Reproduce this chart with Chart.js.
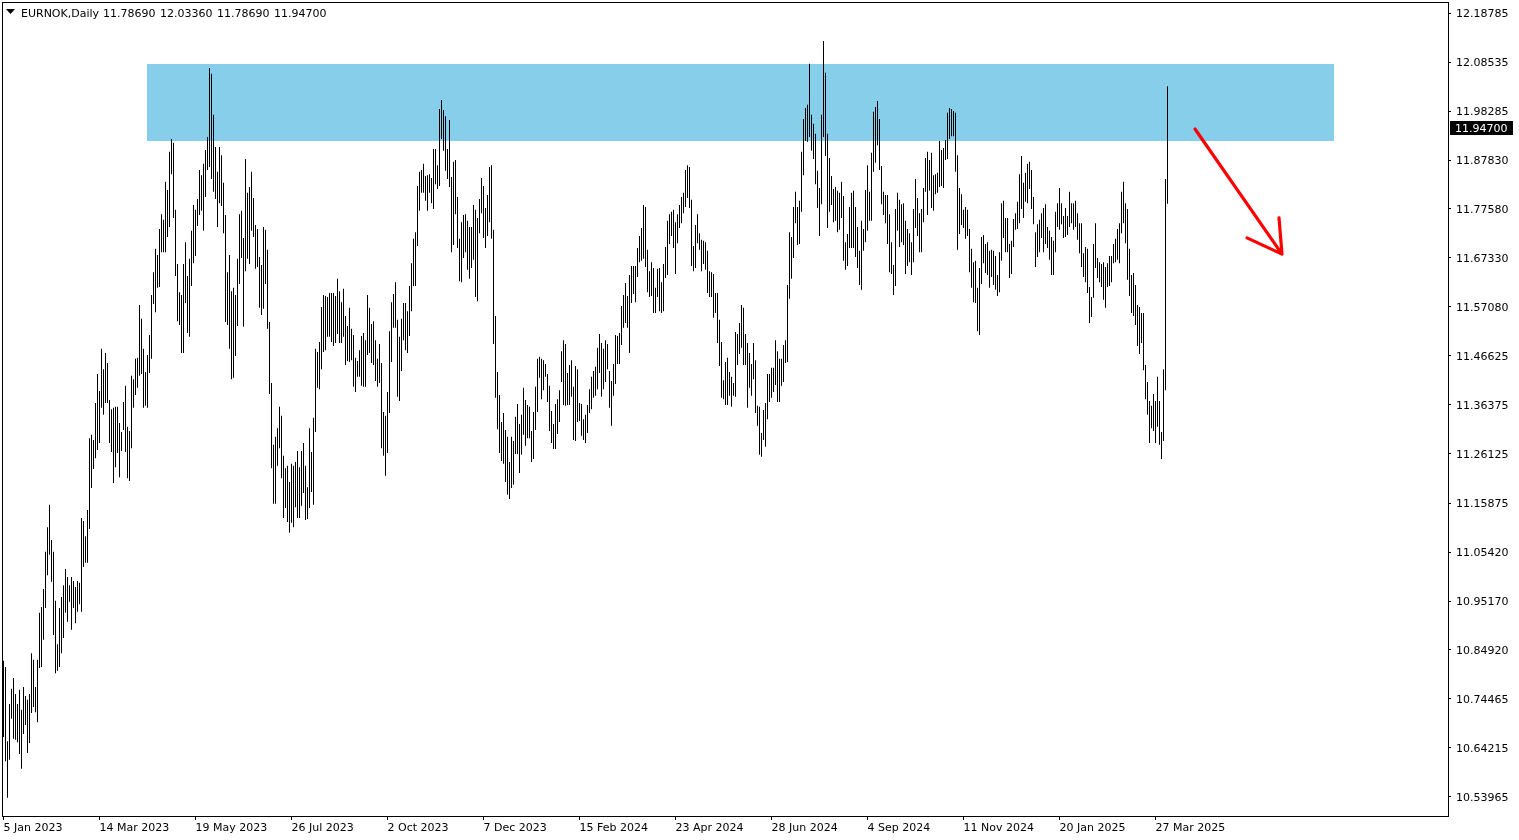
<!DOCTYPE html>
<html><head><meta charset="utf-8">
<script src="https://cdn.jsdelivr.net/npm/chart.js@4.4.1/dist/chart.umd.min.js"></script>
<style>html,body{margin:0;padding:0;background:#fff;}#wrap{width:1519px;height:840px;position:relative;}</style>
</head><body><div id="wrap"><canvas id="c"></canvas></div>
<script>
const symbolName = 'EURNOK,Daily';
const lastBarOHLC = [11.78690, 12.03360, 11.78690, 11.94700];
const dateTickIndex = [0, 48, 96, 144, 192, 240, 288, 336, 384, 432, 480, 528, 576];
const dateTickLabels = ['5 Jan 2023','14 Mar 2023','19 May 2023','26 Jul 2023','2 Oct 2023','7 Dec 2023','15 Feb 2024','23 Apr 2024','28 Jun 2024','4 Sep 2024','11 Nov 2024','20 Jan 2025','27 Mar 2025'];
const priceTickLabels = ['12.18785','12.08535','11.98285','11.87830','11.77580','11.67330','11.57080','11.46625','11.36375','11.26125','11.15875','11.05420','10.95170','10.84920','10.74465','10.64215','10.53965'];

const highs = [10.826,10.813,10.657,10.735,10.767,10.790,10.756,10.735,10.765,10.723,
10.771,10.752,10.744,10.756,10.842,10.828,10.771,10.828,10.927,10.939,
10.977,11.055,11.107,11.154,11.080,11.055,10.952,10.861,10.937,10.960,
10.985,11.019,11.002,10.985,11.002,10.994,10.981,10.994,10.990,11.126,
11.120,11.088,11.143,11.294,11.301,11.290,11.368,11.429,11.393,11.482,
11.439,11.473,11.452,11.374,11.355,11.358,11.360,11.360,11.326,11.307,
11.370,11.404,11.318,11.309,11.425,11.418,11.461,11.463,11.574,11.545,
11.482,11.433,11.469,11.511,11.595,11.643,11.692,11.679,11.734,11.765,
11.753,11.833,11.816,11.896,11.923,11.915,11.774,11.660,11.601,11.595,
11.660,11.706,11.635,11.671,11.730,11.784,11.774,11.797,11.858,11.847,
11.871,11.900,11.927,12.072,12.060,11.974,11.906,11.854,11.906,11.889,
11.831,11.763,11.643,11.679,11.603,11.610,11.595,11.671,11.765,11.772,
11.715,11.881,11.810,11.822,11.854,11.799,11.742,11.734,11.675,11.658,
11.738,11.732,11.690,11.538,11.410,11.280,11.297,11.315,11.360,11.341,
11.257,11.231,11.236,11.202,11.240,11.236,11.244,11.267,11.233,11.267,
11.284,11.236,11.191,11.315,11.265,11.337,11.482,11.475,11.496,11.570,
11.595,11.593,11.591,11.599,11.599,11.599,11.593,11.629,11.603,11.580,
11.608,11.551,11.530,11.568,11.524,11.511,11.463,11.456,11.479,11.509,
11.515,11.500,11.595,11.568,11.534,11.540,11.500,11.461,11.492,11.452,
11.349,11.341,11.391,11.519,11.580,11.597,11.622,11.543,11.507,11.545,
11.578,11.578,11.561,11.614,11.662,11.713,11.727,11.824,11.854,11.858,
11.871,11.845,11.847,11.849,11.841,11.902,11.902,11.868,11.986,12.005,
11.984,11.971,11.902,11.963,11.843,11.875,11.879,11.801,11.713,11.748,
11.763,11.765,11.751,11.738,11.738,11.784,11.774,11.757,11.797,11.841,
11.824,11.778,11.805,11.864,11.868,11.732,11.551,11.433,11.385,11.328,
11.347,11.311,11.297,11.244,11.297,11.288,11.339,11.366,11.324,11.343,
11.400,11.374,11.364,11.360,11.309,11.349,11.402,11.461,11.465,11.461,
11.458,11.450,11.429,11.404,11.351,11.324,11.366,11.376,11.395,11.477,
11.500,11.492,11.431,11.448,11.458,11.402,11.446,11.439,11.368,11.366,
11.334,11.343,11.364,11.397,11.423,11.435,11.444,11.484,11.513,11.494,
11.482,11.500,11.492,11.435,11.414,11.450,11.511,11.509,11.515,11.572,
11.595,11.620,11.593,11.637,11.656,11.656,11.656,11.694,11.719,11.736,
11.784,11.780,11.690,11.645,11.664,11.652,11.610,11.650,11.652,11.622,
11.660,11.696,11.751,11.765,11.770,11.774,11.748,11.765,11.784,11.801,
11.810,11.858,11.868,11.864,11.795,11.698,11.742,11.765,11.725,11.711,
11.709,11.706,11.688,11.645,11.643,11.639,11.599,11.599,11.543,11.496,
11.416,11.454,11.463,11.433,11.423,11.410,11.517,11.513,11.536,11.574,
11.568,11.513,11.494,11.473,11.450,11.494,11.458,11.362,11.360,11.305,
11.353,11.368,11.429,11.429,11.442,11.442,11.500,11.477,11.461,11.461,
11.490,11.500,11.616,11.727,11.717,11.780,11.812,11.780,11.793,11.896,
11.965,11.988,11.995,12.081,11.974,11.955,11.934,11.856,11.820,11.974,
12.129,12.062,11.934,11.883,11.845,11.818,11.822,11.814,11.810,11.833,
11.803,11.706,11.723,11.780,11.810,11.814,11.780,11.738,11.688,11.751,
11.734,11.816,11.868,11.812,11.894,11.980,11.990,12.003,11.965,11.866,
11.812,11.805,11.805,11.765,11.706,11.658,11.776,11.810,11.795,11.786,
11.788,11.751,11.734,11.725,11.706,11.776,11.839,11.799,11.767,11.776,
11.820,11.883,11.896,11.879,11.894,11.847,11.849,11.852,11.919,11.900,
11.904,11.921,11.978,11.988,11.986,11.982,11.978,11.889,11.820,11.807,
11.774,11.780,11.774,11.734,11.692,11.664,11.667,11.610,11.652,11.717,
11.721,11.702,11.706,11.688,11.690,11.688,11.677,11.637,11.685,11.788,
11.793,11.757,11.757,11.702,11.709,11.755,11.767,11.791,11.849,11.887,
11.831,11.852,11.871,11.875,11.858,11.801,11.727,11.744,11.753,11.767,
11.778,11.786,11.738,11.730,11.717,11.709,11.770,11.788,11.820,11.788,
11.761,11.778,11.761,11.812,11.788,11.788,11.793,11.767,11.746,11.746,
11.683,11.696,11.692,11.612,11.591,11.702,11.746,11.673,11.664,11.660,
11.664,11.654,11.662,11.677,11.677,11.702,11.713,11.734,11.746,11.812,
11.833,11.788,11.776,11.692,11.637,11.641,11.616,11.574,11.570,11.557,
11.557,11.448,11.412,11.372,11.362,11.387,11.372,11.423,11.372,11.307,
11.439,11.839,12.0336];

const lows = [10.666,10.615,10.538,10.618,10.704,10.662,10.660,10.655,10.630,10.599,
10.672,10.691,10.632,10.653,10.716,10.729,10.718,10.697,10.811,10.813,
10.870,10.937,11.006,11.049,10.992,10.880,10.800,10.805,10.813,10.842,
10.874,10.927,10.908,10.950,10.891,10.937,10.905,10.929,10.945,10.929,
11.023,11.032,11.032,11.103,11.189,11.229,11.252,11.269,11.284,11.358,
11.343,11.368,11.368,11.284,11.265,11.200,11.233,11.263,11.212,11.267,
11.311,11.265,11.210,11.204,11.273,11.358,11.385,11.400,11.425,11.429,
11.358,11.362,11.358,11.431,11.461,11.576,11.559,11.610,11.612,11.685,
11.685,11.685,11.717,11.738,11.849,11.757,11.635,11.540,11.532,11.473,
11.473,11.578,11.515,11.507,11.614,11.662,11.677,11.740,11.763,11.772,
11.730,11.801,11.858,11.864,11.839,11.812,11.797,11.738,11.788,11.782,
11.725,11.538,11.532,11.482,11.418,11.421,11.467,11.530,11.618,11.673,
11.528,11.645,11.671,11.660,11.730,11.717,11.650,11.654,11.568,11.553,
11.566,11.618,11.524,11.387,11.231,11.156,11.156,11.236,11.273,11.210,
11.126,11.147,11.118,11.095,11.116,11.107,11.149,11.126,11.126,11.152,
11.179,11.122,11.124,11.147,11.181,11.154,11.307,11.400,11.397,11.439,
11.475,11.479,11.507,11.507,11.496,11.488,11.494,11.513,11.494,11.494,
11.507,11.448,11.456,11.454,11.458,11.402,11.391,11.423,11.423,11.404,
11.402,11.402,11.469,11.473,11.452,11.448,11.414,11.402,11.410,11.273,
11.257,11.215,11.263,11.347,11.454,11.526,11.526,11.381,11.372,11.435,
11.500,11.479,11.473,11.509,11.561,11.614,11.614,11.698,11.772,11.810,
11.810,11.793,11.772,11.810,11.788,11.776,11.828,11.818,11.824,11.923,
11.898,11.856,11.839,11.822,11.685,11.700,11.765,11.694,11.624,11.622,
11.673,11.685,11.648,11.629,11.652,11.669,11.591,11.582,11.725,11.767,
11.715,11.694,11.719,11.748,11.713,11.492,11.379,11.313,11.263,11.246,
11.240,11.202,11.175,11.166,11.189,11.196,11.261,11.261,11.221,11.259,
11.301,11.278,11.294,11.294,11.244,11.250,11.311,11.349,11.421,11.376,
11.395,11.423,11.370,11.309,11.284,11.271,11.271,11.303,11.328,11.412,
11.364,11.362,11.364,11.364,11.381,11.290,11.288,11.328,11.330,11.299,
11.290,11.284,11.305,11.347,11.355,11.379,11.383,11.397,11.431,11.381,
11.397,11.412,11.439,11.358,11.320,11.383,11.408,11.450,11.450,11.490,
11.526,11.536,11.526,11.473,11.578,11.597,11.580,11.633,11.664,11.667,
11.671,11.654,11.601,11.591,11.593,11.557,11.557,11.591,11.561,11.557,
11.561,11.631,11.637,11.702,11.719,11.694,11.639,11.704,11.736,11.746,
11.767,11.780,11.799,11.778,11.656,11.645,11.652,11.704,11.690,11.645,
11.660,11.648,11.599,11.591,11.591,11.547,11.557,11.494,11.446,11.379,
11.376,11.364,11.364,11.383,11.360,11.383,11.381,11.448,11.471,11.484,
11.448,11.448,11.358,11.400,11.383,11.418,11.347,11.320,11.259,11.255,
11.290,11.276,11.334,11.370,11.379,11.391,11.406,11.370,11.370,11.404,
11.412,11.452,11.454,11.587,11.629,11.673,11.746,11.700,11.702,11.770,
11.847,11.919,11.917,11.927,11.898,11.881,11.828,11.778,11.719,11.786,
11.927,11.887,11.736,11.770,11.784,11.748,11.751,11.727,11.732,11.757,
11.667,11.648,11.656,11.694,11.694,11.694,11.675,11.652,11.616,11.606,
11.688,11.706,11.730,11.751,11.751,11.854,11.873,11.910,11.858,11.786,
11.763,11.746,11.702,11.643,11.639,11.595,11.614,11.730,11.696,11.706,
11.700,11.639,11.656,11.664,11.637,11.664,11.736,11.719,11.685,11.685,
11.748,11.812,11.763,11.814,11.778,11.772,11.807,11.810,11.822,11.824,
11.820,11.879,11.881,11.923,11.929,11.929,11.854,11.690,11.723,11.742,
11.736,11.713,11.719,11.643,11.610,11.580,11.578,11.519,11.511,11.618,
11.662,11.641,11.637,11.610,11.633,11.616,11.606,11.593,11.601,11.667,
11.715,11.685,11.685,11.631,11.639,11.696,11.732,11.734,11.746,11.776,
11.757,11.791,11.788,11.818,11.776,11.744,11.654,11.675,11.685,11.715,
11.685,11.702,11.694,11.669,11.637,11.637,11.685,11.738,11.732,11.744,
11.715,11.717,11.721,11.738,11.746,11.732,11.738,11.711,11.683,11.654,
11.633,11.622,11.599,11.536,11.549,11.589,11.652,11.631,11.622,11.612,
11.585,11.568,11.612,11.614,11.622,11.662,11.664,11.669,11.662,11.725,
11.746,11.704,11.627,11.593,11.557,11.551,11.532,11.488,11.471,11.494,
11.437,11.376,11.343,11.284,11.315,11.309,11.284,11.318,11.280,11.250,
11.288,11.395,11.7869];

// resistance zone and drawn arrow, in bar-index / price units
const zoneBars = [72, 665];
const zonePrices = [12.0806, 11.9188];
const arrowShaft = [[595.75, 11.944], [639.25, 11.681]];
const arrowHead = [[621.75, 11.715], [639.25, 11.681], [637.75, 11.757]];

const FONT_FAMILY = '"DejaVu Sans", Verdana, sans-serif';
const topPrice = parseFloat(priceTickLabels[0]);
const botPrice = parseFloat(priceTickLabels[priceTickLabels.length - 1]);
const tickStep = (topPrice - botPrice) / (priceTickLabels.length - 1);
const pxPerUnit = 784 / (topPrice - botPrice);

const overlay = {
  id: 'overlay',
  beforeDatasetsDraw(chart) {
    const {ctx, scales: {x, y}} = chart;
    ctx.save();
    ctx.fillStyle = '#87CEEB';
    const x0 = Math.round(x.getPixelForValue(zoneBars[0]) - 0.5);
    const x1 = Math.round(x.getPixelForValue(zoneBars[1]) + 0.5);
    const y0 = Math.round(y.getPixelForValue(zonePrices[0]));
    const y1 = Math.round(y.getPixelForValue(zonePrices[1]));
    ctx.fillRect(x0, y0, x1 - x0, y1 - y0);
    ctx.restore();
  },
  afterDatasetsDraw(chart) {
    const {ctx, scales: {x, y}} = chart;
    ctx.save();
    ctx.strokeStyle = '#FF0000';
    ctx.lineWidth = 3.2;
    ctx.lineCap = 'round';
    ctx.lineJoin = 'round';
    ctx.beginPath();
    ctx.moveTo(x.getPixelForValue(arrowShaft[0][0]), y.getPixelForValue(arrowShaft[0][1]));
    ctx.lineTo(x.getPixelForValue(arrowShaft[1][0]), y.getPixelForValue(arrowShaft[1][1]));
    ctx.moveTo(x.getPixelForValue(arrowHead[0][0]), y.getPixelForValue(arrowHead[0][1]));
    for (let i = 1; i < arrowHead.length; i++) ctx.lineTo(x.getPixelForValue(arrowHead[i][0]), y.getPixelForValue(arrowHead[i][1]));
    ctx.stroke();
    ctx.restore();
  },
  afterDraw(chart) {
    const {ctx, chartArea: a, scales: {y}} = chart;
    ctx.save();
    ctx.strokeStyle = '#000';
    ctx.lineWidth = 1;
    ctx.strokeRect(a.left + 0.5, a.top + 0.5, a.right - a.left, a.bottom - a.top);
    ctx.fillStyle = '#000';
    ctx.beginPath();
    ctx.moveTo(a.left + 4, 9); ctx.lineTo(a.left + 13, 9); ctx.lineTo(a.left + 8.5, 14); ctx.closePath();
    ctx.fill();
    ctx.font = '11px ' + FONT_FAMILY;
    ctx.textBaseline = 'alphabetic';
    ctx.textAlign = 'left';
    ctx.fillText(symbolName, a.left + 19, 17);
    let tx = a.left + 101;
    lastBarOHLC.forEach(v => {
      const s = v.toFixed(5);
      ctx.fillText(s, tx, 17);
      tx += ctx.measureText(s).width + 4.5;
    });
    const close = lastBarOHLC[3];
    const py = Math.round(y.getPixelForValue(close));
    ctx.fillStyle = '#000';
    ctx.fillRect(a.right + 2, py - 7, 63, 14);
    ctx.fillStyle = '#fff';
    ctx.textBaseline = 'middle';
    ctx.fillText(close.toFixed(5), a.right + 7, py + 1);
    ctx.restore();
  }
};

const barData = highs.map((h, i) => ({x: i, y: [lows[i], h]}));

new Chart(document.getElementById('c'), {
  type: 'bar',
  data: {
    datasets: [{
      data: barData,
      backgroundColor: '#000',
      borderWidth: 0,
      barThickness: 1,
      inflateAmount: 0,
      grouped: false
    }]
  },
  options: {
    responsive: true,
    maintainAspectRatio: false,
    animation: false,
    events: [],
    layout: {padding: {left: 2, top: 2, right: 0, bottom: 0}},
    plugins: {legend: {display: false}, tooltip: {enabled: false}, title: {display: false}},
    scales: {
      x: {
        type: 'linear',
        position: 'bottom',
        min: -0.75,
        max: 722.25,
        offset: false,
        border: {display: false},
        grid: {display: true, drawOnChartArea: false, drawTicks: true, tickLength: 4, tickColor: '#000', offset: false},
        afterBuildTicks(axis) { axis.ticks = dateTickIndex.map(v => ({value: v})); },
        afterFit(axis) { axis.height = 24; axis.paddingLeft = 0; axis.paddingRight = 0; },
        ticks: {
          autoSkip: false, maxRotation: 0, minRotation: 0, align: 'start', padding: 2,
          color: '#000', font: {family: FONT_FAMILY, size: 11},
          callback: (v, i) => dateTickLabels[i]
        }
      },
      y: {
        type: 'linear',
        position: 'right',
        min: botPrice - 19 / pxPerUnit,
        max: topPrice + 11 / pxPerUnit,
        border: {display: false},
        grid: {display: true, drawOnChartArea: false, drawTicks: true, tickLength: 3, tickColor: '#000'},
        afterBuildTicks(axis) { axis.ticks = priceTickLabels.map((_, k) => ({value: topPrice - k * tickStep})); },
        afterFit(axis) { axis.width = 71; axis.paddingTop = 0; axis.paddingBottom = 0; },
        ticks: {
          autoSkip: false, padding: 5, labelOffset: 1, color: '#000', font: {family: FONT_FAMILY, size: 11},
          callback: (v, i) => priceTickLabels[i]
        }
      }
    }
  },
  plugins: [overlay]
});
</script>
</body></html>
